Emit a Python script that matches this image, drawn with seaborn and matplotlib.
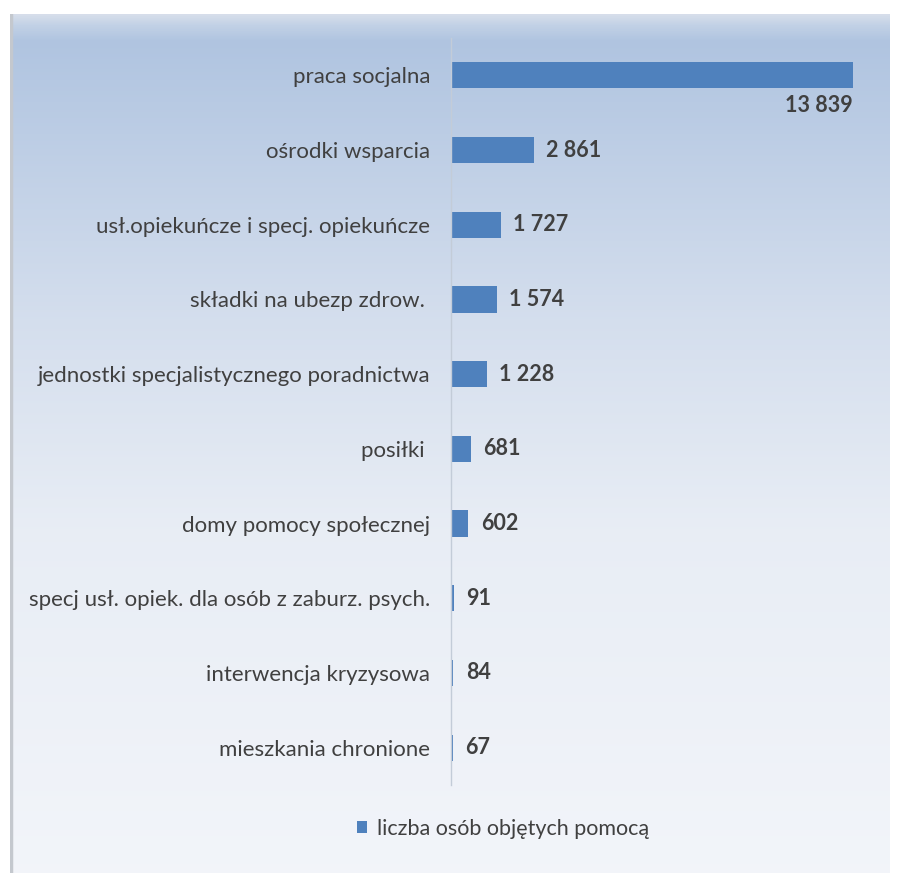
import numpy as np
import pandas as pd
import matplotlib
matplotlib.use("Agg")
import matplotlib.pyplot as plt
from matplotlib.patches import Patch
import seaborn as sns

categories = [
    "praca socjalna",
    "ośrodki wsparcia",
    "usł.opiekuńcze i specj. opiekuńcze",
    "składki na ubezp zdrow. ",
    "jednostki specjalistycznego poradnictwa",
    "posiłki ",
    "domy pomocy społecznej",
    "specj usł. opiek. dla osób z zaburz. psych.",
    "interwencja kryzysowa",
    "mieszkania chronione",
]
values = [13839, 2861, 1727, 1574, 1228, 681, 602, 91, 84, 67]
series_name = "liczba osób objętych pomocą"

df = pd.DataFrame({"kategoria": categories, "wartosc": values})

sns.set_theme(style="white")
plt.rcParams["font.family"] = ["Lato", "DejaVu Sans"]

W, H = 899, 873
fig = plt.figure(figsize=(W / 100, H / 100), dpi=100)
fig.patch.set_facecolor("white")

# gradient panel background
bg = fig.add_axes([10 / W, 0, (889 - 10) / W, (H - 14) / H])
bg.set_axis_off()
stops_pos = [0.0, 0.012, 0.03, 0.35, 0.6, 1.0]
stops_col = np.array([
    [0.84, 0.87, 0.92],
    [0.76, 0.82, 0.90],
    [0.69, 0.77, 0.88],
    [0.83, 0.87, 0.93],
    [0.91, 0.93, 0.96],
    [0.95, 0.96, 0.98],
])
t = np.linspace(0, 1, 400)
grad = np.stack([np.interp(t, stops_pos, stops_col[:, i]) for i in range(3)], axis=-1)
bg.imshow(grad[:, None, :], aspect="auto", extent=[0, 1, 0, 1], origin="upper")
bg.set_xlim(0, 1)
bg.set_ylim(0, 1)
bg.axvline(0.001, color="#c4c8ce", lw=2.5)

# main axes
ax_left = 451 / W
ax_w = (853 - 451) / W
ax_top = 38
ax_bot = 785
ax = fig.add_axes([ax_left, 1 - ax_bot / H, ax_w, (ax_bot - ax_top) / H])
ax.set_facecolor("none")

sns.barplot(data=df, x="wartosc", y="kategoria", orient="h", color="#4f81bd",
            saturation=1, width=0.35, linewidth=0, edgecolor="none", ax=ax)
ax.set_xlim(0, max(values))
ax.set_ylim(len(categories) - 0.5, -0.5)
ax.set_xlabel("")
ax.set_ylabel("")
ax.set_xticks([])
for s in ["top", "right", "bottom"]:
    ax.spines[s].set_visible(False)
ax.spines["left"].set_color("#c3ccd8")
ax.spines["left"].set_linewidth(1.0)
ax.tick_params(axis="y", length=0, pad=15, labelsize=16, labelcolor="#404040")

for i, v in enumerate(values):
    lab = f"{v:,}".replace(",", " ")
    if i == 0:
        ax.text(v, i + 0.40, lab, ha="right", va="center", fontsize=15.5,
                fontweight="bold", color="#404040", clip_on=False)
    else:
        ax.text(v + 420, i, lab, ha="left", va="center", fontsize=15.5,
                fontweight="bold", color="#404040", clip_on=False)

handle = Patch(facecolor="#4f81bd", edgecolor="none", label=series_name)
fig.legend(handles=[handle], loc="center", bbox_to_anchor=(503 / W, 1 - 829 / H),
           frameon=False, fontsize=15.5, handlelength=0.45, handleheight=0.5,
           handletextpad=0.45, labelcolor="#404040")

fig.savefig("out.png", dpi=100)
